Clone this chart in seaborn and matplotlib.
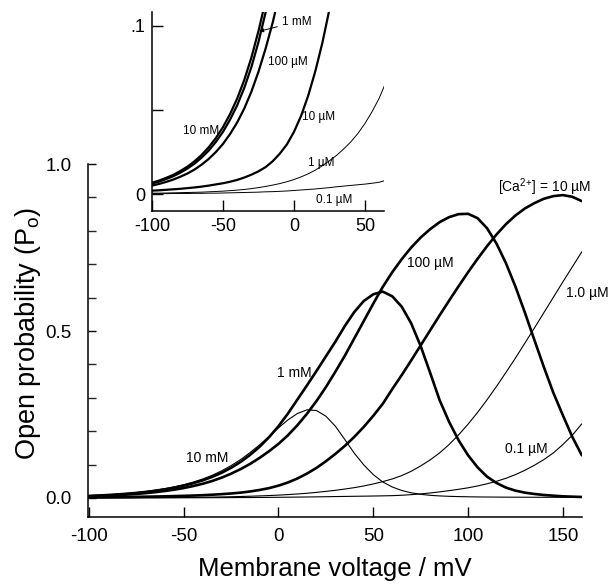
import numpy as np
import pandas as pd
import seaborn as sns
import matplotlib.pyplot as plt

# membrane voltage grid (mV) and open probability for each [Ca2+]
volt = np.arange(-100, 161, 5)

p_10mM = [
    0.0067, 0.0080, 0.0096, 0.0114, 0.0137, 0.0163, 0.0195, 0.0233, 0.0279, 0.0333,
    0.0398, 0.0476, 0.0568, 0.0679, 0.0812, 0.0970, 0.1150, 0.1360, 0.1590, 0.1840,
    0.2100, 0.2340, 0.2530, 0.2640, 0.2620, 0.2450, 0.2150, 0.1750, 0.1340, 0.0990,
    0.0700, 0.0480, 0.0330, 0.0225, 0.0155, 0.0110, 0.0080, 0.0062, 0.0050, 0.0042,
    0.0036, 0.0032, 0.0029, 0.0027, 0.0025, 0.0024, 0.0023, 0.0022, 0.0021, 0.0021,
    0.0020, 0.0020, 0.0020]
p_1mM = [
    0.0062, 0.0074, 0.0089, 0.0106, 0.0127, 0.0152, 0.0181, 0.0217, 0.0259, 0.0310,
    0.0370, 0.0443, 0.0528, 0.0632, 0.0755, 0.0905, 0.1080, 0.1290, 0.1530, 0.1820,
    0.2150, 0.2530, 0.2950, 0.3370, 0.3800, 0.4240, 0.4680, 0.5150, 0.5570, 0.5900,
    0.6100, 0.6180, 0.6040, 0.5730, 0.5230, 0.4550, 0.3750, 0.2930, 0.2280, 0.1730,
    0.1280, 0.0920, 0.0640, 0.0450, 0.0310, 0.0220, 0.0160, 0.0120, 0.0090, 0.0070,
    0.0050, 0.0040, 0.0030]
p_100uM = [
    0.0050, 0.0060, 0.0072, 0.0086, 0.0103, 0.0122, 0.0146, 0.0175, 0.0209, 0.0250,
    0.0298, 0.0357, 0.0426, 0.0509, 0.0609, 0.0728, 0.0865, 0.1020, 0.1200, 0.1400,
    0.1620, 0.1880, 0.2180, 0.2520, 0.2900, 0.3320, 0.3780, 0.4260, 0.4780, 0.5300,
    0.5820, 0.6320, 0.6760, 0.7150, 0.7500, 0.7800, 0.8050, 0.8260, 0.8410, 0.8500,
    0.8510, 0.8380, 0.8080, 0.7620, 0.7030, 0.6330, 0.5550, 0.4730, 0.3920, 0.3150,
    0.2480, 0.1830, 0.1280]
p_10uM = [
    0.0020, 0.0022, 0.0025, 0.0028, 0.0031, 0.0035, 0.0039, 0.0044, 0.0050, 0.0057,
    0.0064, 0.0073, 0.0084, 0.0098, 0.0115, 0.0135, 0.0160, 0.0195, 0.0240, 0.0295,
    0.0370, 0.0465, 0.0585, 0.0730, 0.0900, 0.1100, 0.1320, 0.1560, 0.1830, 0.2130,
    0.2460, 0.2820, 0.3260, 0.3680, 0.4120, 0.4570, 0.5020, 0.5470, 0.5910, 0.6340,
    0.6760, 0.7160, 0.7540, 0.7890, 0.8200, 0.8460, 0.8670, 0.8830, 0.8960, 0.9040,
    0.9070, 0.9020, 0.8890]
p_1uM = [
    0.0005, 0.0005, 0.0006, 0.0007, 0.0008, 0.0009, 0.0010, 0.0011, 0.0013, 0.0015,
    0.0017, 0.0020, 0.0023, 0.0027, 0.0032, 0.0038, 0.0045, 0.0053, 0.0062, 0.0073,
    0.0086, 0.0102, 0.0120, 0.0142, 0.0168, 0.0198, 0.0230, 0.0268, 0.0310, 0.0360,
    0.0420, 0.0490, 0.0570, 0.0670, 0.0800, 0.0960, 0.1140, 0.1350, 0.1600, 0.1890,
    0.2210, 0.2560, 0.2940, 0.3340, 0.3760, 0.4190, 0.4640, 0.5090, 0.5550, 0.6010,
    0.6470, 0.6920, 0.7370]
p_01uM = [
    0.0002, 0.0002, 0.0002, 0.0003, 0.0003, 0.0003, 0.0004, 0.0004, 0.0005, 0.0005,
    0.0006, 0.0007, 0.0008, 0.0009, 0.0010, 0.0011, 0.0013, 0.0014, 0.0016, 0.0018,
    0.0021, 0.0024, 0.0027, 0.0030, 0.0034, 0.0038, 0.0043, 0.0047, 0.0051, 0.0055,
    0.0059, 0.0064, 0.0070, 0.0082, 0.0100, 0.0122, 0.0150, 0.0183, 0.0220, 0.0260,
    0.0305, 0.0360, 0.0425, 0.0500, 0.0590, 0.0700, 0.0830, 0.0980, 0.1150, 0.1350,
    0.1600, 0.1880, 0.2220]

# (series, line width main, line width inset, last voltage shown in inset)
curves = [
    (p_10mM, 0.8, 1.6, 20),
    (p_1mM, 1.9, 1.6, 160),
    (p_100uM, 1.9, 1.6, 160),
    (p_10uM, 1.9, 1.6, 160),
    (p_1uM, 0.8, 0.7, 160),
    (p_01uM, 0.8, 0.7, 160),
]

sns.set_theme(style='ticks')
plt.rcParams['font.family'] = ['Liberation Sans', 'DejaVu Sans']
plt.rcParams['mathtext.fontset'] = 'custom'
plt.rcParams['mathtext.rm'] = 'Liberation Sans'
plt.rcParams['axes.linewidth'] = 1.1
plt.rcParams['axes.edgecolor'] = 'black'
plt.rcParams['axes.unicode_minus'] = False

fig = plt.figure(figsize=(6.08, 5.88), dpi=100)
ax = fig.add_axes([0.1447, 0.1207, 0.8125, 0.6003])
ins = fig.add_axes([0.25, 0.6412, 0.3816, 0.3384])

for vals, lw_main, lw_ins, vmax in curves:
    sns.lineplot(x=volt, y=vals, ax=ax, color='black', linewidth=lw_main, estimator=None)
    keep = volt <= vmax
    sns.lineplot(x=volt[keep], y=np.array(vals)[keep], ax=ins, color='black',
                 linewidth=lw_ins, estimator=None)

# main axes
ax.set_xlim(-100.5, 160.1)
ax.set_ylim(-0.057, 1.0)
sns.despine(ax=ax)
ax.set_xticks([-100, -50, 0, 50, 100, 150])
ax.set_yticks([0, 0.5, 1.0])
ax.set_yticklabels(['0.0', '0.5', '1.0'])
ax.set_yticks(np.arange(0, 1.01, 0.1), minor=True)
ax.tick_params(axis='x', direction='in', length=7, width=1, labelsize=13.5, pad=8, colors='black')
ax.tick_params(axis='y', direction='in', length=6, width=1, labelsize=13.5, pad=12, colors='black')
ax.tick_params(axis='y', which='minor', direction='in', length=6, width=1)
ax.set_xlabel('Membrane voltage / mV', fontsize=18.5, color='black')
ax.set_ylabel('Open probability (P$_\\mathregular{o}$)', fontsize=19.5, color='black')
ax.xaxis.set_label_coords(0.5, -0.114)
ax.yaxis.set_label_coords(-0.092, 0.52)

lab = dict(fontsize=10, color='black', ha='left', va='center')
ax.text(116, 0.931, '[Ca$^\\mathregular{2}$$^\\mathregular{+}$] = 10 µM', **lab)
ax.text(68, 0.705, '100 µM', **lab)
ax.text(151.5, 0.614, '1.0 µM', **lab)
ax.text(-1, 0.373, '1 mM', **lab)
ax.text(-49, 0.121, '10 mM', **lab)
ax.text(119.5, 0.146, '0.1 µM', **lab)

# inset: low-probability region
ins.set_xlim(-100, 63.4)
ins.set_ylim(-0.0101, 0.1083)
sns.despine(ax=ins)
ins.set_facecolor('white')
ins.set_xticks([-100, -50, 0, 50])
ins.set_yticks([0, 0.05, 0.1])
ins.set_yticklabels(['0', '', '.1'])
ins.tick_params(direction='in', length=8, width=1, labelsize=13, pad=5, colors='black')
ins.set_xlabel('')
ins.set_ylabel('')

sl = dict(fontsize=8.5, color='black', ha='left', va='center')
ins.annotate('1 mM', xy=(-24.5, 0.0968), xytext=(-8.5, 0.1025), fontsize=8.5, color='black',
             ha='left', va='center',
             arrowprops=dict(arrowstyle='-|>', color='black', lw=0.7, mutation_scale=6,
                             shrinkA=1, shrinkB=0))
ins.text(-18, 0.0788, '100 µM', **sl)
ins.text(5.4, 0.046, '10 µM', **sl)
ins.text(-78.4, 0.0375, '10 mM', **sl)
ins.text(10, 0.0183, '1 µM', **sl)
ins.text(15.5, -0.0036, '0.1 µM', **sl)

plt.savefig('out.png', dpi=100)
